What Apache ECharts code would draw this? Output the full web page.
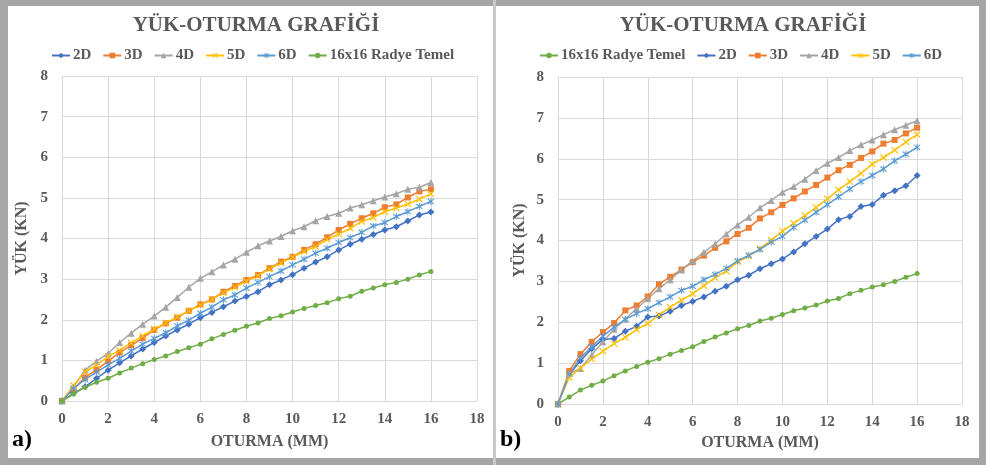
<!DOCTYPE html>
<html>
<head>
<meta charset="utf-8">
<script src="https://cdn.jsdelivr.net/npm/echarts@6/dist/echarts.min.js"></script>
<style>
html,body{margin:0;padding:0;background:#fff;}
#chart{width:986px;height:465px;}
</style>
</head>
<body>
<div id="chart"></div>
<script>
// ---- data ----
const xValues = [0,0.5,1,1.5,2,2.5,3,3.5,4,4.5,5,5.5,6,6.5,7,7.5,8,8.5,9,9.5,10,10.5,11,11.5,12,12.5,13,13.5,14,14.5,15,15.5,16];

const radye = [0,0.17,0.34,0.46,0.56,0.69,0.81,0.92,1.02,1.11,1.22,1.31,1.40,1.53,1.64,1.74,1.84,1.92,2.03,2.10,2.19,2.28,2.35,2.42,2.52,2.58,2.70,2.78,2.86,2.92,3.00,3.10,3.19];

// panel a
const a2D = [0,0.19,0.35,0.56,0.76,0.94,1.11,1.28,1.44,1.60,1.75,1.89,2.05,2.18,2.32,2.46,2.57,2.69,2.86,2.98,3.11,3.27,3.42,3.55,3.72,3.86,3.98,4.10,4.21,4.29,4.43,4.58,4.65];
const a3D = [0,0.30,0.58,0.77,0.98,1.19,1.37,1.55,1.75,1.91,2.05,2.22,2.38,2.50,2.69,2.83,2.98,3.10,3.27,3.43,3.55,3.72,3.86,4.03,4.21,4.36,4.50,4.62,4.77,4.84,5.01,5.16,5.21];
const a4D = [0,0.35,0.76,0.98,1.17,1.44,1.67,1.89,2.09,2.31,2.55,2.80,3.02,3.18,3.35,3.49,3.66,3.82,3.94,4.05,4.19,4.29,4.44,4.54,4.62,4.75,4.83,4.93,5.02,5.10,5.21,5.26,5.38];
const a5D = [0,0.38,0.72,0.88,1.10,1.25,1.43,1.60,1.77,1.92,2.07,2.22,2.36,2.50,2.66,2.80,2.95,3.08,3.25,3.40,3.54,3.68,3.80,3.98,4.11,4.25,4.42,4.52,4.66,4.75,4.85,4.97,5.10];
const a6D = [0,0.31,0.53,0.71,0.89,1.05,1.23,1.40,1.54,1.68,1.85,1.99,2.16,2.31,2.49,2.61,2.78,2.92,3.06,3.20,3.35,3.49,3.64,3.76,3.90,4.02,4.15,4.31,4.39,4.54,4.66,4.79,4.91];

// panel b
const b2D = [0,0.72,1.06,1.35,1.58,1.60,1.78,1.90,2.13,2.15,2.27,2.41,2.51,2.62,2.76,2.88,3.04,3.15,3.31,3.43,3.55,3.72,3.92,4.10,4.28,4.51,4.59,4.83,4.88,5.11,5.22,5.34,5.59];
const b3D = [0,0.81,1.22,1.52,1.76,1.98,2.29,2.41,2.63,2.93,3.11,3.29,3.47,3.63,3.82,3.98,4.16,4.31,4.54,4.69,4.87,5.03,5.20,5.36,5.54,5.72,5.85,6.02,6.18,6.37,6.46,6.62,6.76];
const b4D = [0,0.75,0.87,1.20,1.52,1.83,2.08,2.33,2.58,2.82,3.04,3.28,3.50,3.71,3.92,4.16,4.38,4.57,4.80,4.98,5.18,5.32,5.50,5.71,5.89,6.03,6.20,6.34,6.46,6.59,6.71,6.82,6.93];
const b5D = [0,0.65,0.88,1.10,1.29,1.48,1.63,1.82,1.97,2.18,2.37,2.54,2.70,2.89,3.09,3.25,3.48,3.62,3.80,4.01,4.23,4.42,4.61,4.81,5.02,5.24,5.44,5.64,5.87,6.03,6.21,6.41,6.59];
const b6D = [0,0.73,1.13,1.40,1.66,1.88,2.07,2.21,2.33,2.48,2.62,2.78,2.88,3.04,3.17,3.32,3.50,3.64,3.78,3.96,4.10,4.32,4.50,4.69,4.88,5.07,5.26,5.44,5.59,5.75,5.95,6.11,6.28];

const titleText = 'YÜK-OTURMA GRAFİĞİ';
const xName = 'OTURMA (MM)';
const yName = 'YÜK (KN)';
const legendA = ['2D','3D','4D','5D','6D','16x16 Radye Temel'];
const legendB = ['16x16 Radye Temel','2D','3D','4D','5D','6D'];

// ---- styles ----
const FONT = '"Liberation Serif", "Times New Roman", serif';
const TXT = '#595959';
const colors = {'2D':'#4472C4','3D':'#ED7D31','4D':'#A5A5A5','5D':'#FFC000','6D':'#5B9BD5','16x16 Radye Temel':'#70AD47'};
const X_PATH = 'path://M0,1.2L1.2,0L5,3.8L8.8,0L10,1.2L6.2,5L10,8.8L8.8,10L5,6.2L1.2,10L0,8.8L3.8,5Z';
const AST_PATH = 'path://M0,1.2L1.2,0L5,3.8L8.8,0L10,1.2L6.2,5L10,8.8L8.8,10L5,6.2L1.2,10L0,8.8L3.8,5Z M4.3,-1L5.7,-1L5.7,11L4.3,11Z';
const symbols = {'2D':['diamond',7],'3D':['rect',6],'4D':['triangle',7],'5D':[X_PATH,7],'6D':[AST_PATH,7],'16x16 Radye Temel':['circle',5]};

function mk(name, ys, idx){
  return {
    name: name, type:'line', xAxisIndex: idx, yAxisIndex: idx,
    data: xValues.map((x,i)=>[x, ys[i]]),
    symbol: symbols[name][0], symbolSize: symbols[name][1],
    showSymbol: true,
    lineStyle:{color: colors[name], width:1.5},
    itemStyle:{color: colors[name]},
    emphasis:{disabled:true},
    animation:false
  };
}

function xAxis(idx, gap){
  return {
    gridIndex: idx, type:'value', min:0, max:18, interval:2,
    name: xName, nameLocation:'middle', nameGap: gap,
    nameTextStyle:{fontFamily:FONT, fontWeight:'bold', fontSize:16, color:TXT},
    axisLine:{show:true, lineStyle:{color:'#d9d9d9', width:1}},
    axisTick:{show:false},
    axisLabel:{fontFamily:FONT, fontWeight:'bold', fontSize:15, color:TXT, margin:11},
    splitLine:{show:true, lineStyle:{color:'#d9d9d9', width:1}}
  };
}
function yAxis(idx, gap){
  return {
    gridIndex: idx, type:'value', min:0, max:8, interval:1,
    name: yName, nameLocation:'middle', nameGap: gap, nameRotate:90,
    nameTextStyle:{fontFamily:FONT, fontWeight:'bold', fontSize:16, color:TXT},
    axisLine:{show:false},
    axisTick:{show:false},
    axisLabel:{fontFamily:FONT, fontWeight:'bold', fontSize:15, color:TXT, margin:14},
    splitLine:{show:true, lineStyle:{color:'#d9d9d9', width:1}}
  };
}
function legend(data, left){
  return {
    data: data, top: 43, left: left,
    itemWidth: 18, itemHeight: 7, itemGap: 11,
    textStyle:{fontFamily:FONT, fontWeight:'bold', fontSize:15, color:TXT, padding:[0,0,0,-2]},
    selectedMode:false
  };
}

const chart = echarts.init(document.getElementById('chart'), null, {renderer:'canvas'});
const option = {
  backgroundColor:'#ffffff',
  animation:false,
  title:[
    {text:titleText, left:251, top:10, textAlign:'center', textStyle:{fontFamily:FONT, fontWeight:'bold', fontSize:21, color:TXT}},
    {text:titleText, left:738, top:10, textAlign:'center', textStyle:{fontFamily:FONT, fontWeight:'bold', fontSize:21, color:TXT}}
  ],
  legend:[legend(legendA, 46), legend(legendB, 534)],
  grid:[
    {left:62, top:76, width:415, height:325, containLabel:false},
    {left:558, top:77, width:404, height:327, containLabel:false}
  ],
  xAxis:[xAxis(0,33), xAxis(1,30)],
  yAxis:[yAxis(0,32), yAxis(1,30)],
  series:[
    mk('2D', a2D, 0), mk('3D', a3D, 0), mk('4D', a4D, 0), mk('5D', a5D, 0), mk('6D', a6D, 0), mk('16x16 Radye Temel', radye, 0),
    mk('16x16 Radye Temel', radye, 1), mk('2D', b2D, 1), mk('3D', b3D, 1), mk('4D', b4D, 1), mk('5D', b5D, 1), mk('6D', b6D, 1)
  ],
  graphic:[
    {type:'rect', silent:true, z:-100, shape:{x:0,y:0,width:986,height:6}, style:{fill:'#a6a6a6'}},
    {type:'rect', silent:true, z:-100, shape:{x:0,y:458,width:986,height:7}, style:{fill:'#a6a6a6'}},
    {type:'rect', silent:true, z:-100, shape:{x:0,y:0,width:8,height:465}, style:{fill:'#a6a6a6'}},
    {type:'rect', silent:true, z:-100, shape:{x:979,y:0,width:7,height:465}, style:{fill:'#a6a6a6'}},
    {type:'rect', silent:true, z:-100, shape:{x:493,y:0,width:3,height:465}, style:{fill:'#c9c9c9'}},
    {type:'text', silent:true, left:12, top:428, style:{text:'a)', font:'bold 24px "Liberation Serif", serif', fill:'#000'}},
    {type:'text', silent:true, left:500, top:428, style:{text:'b)', font:'bold 24px "Liberation Serif", serif', fill:'#000'}}
  ]
};
chart.setOption(option);
</script>
</body>
</html>
